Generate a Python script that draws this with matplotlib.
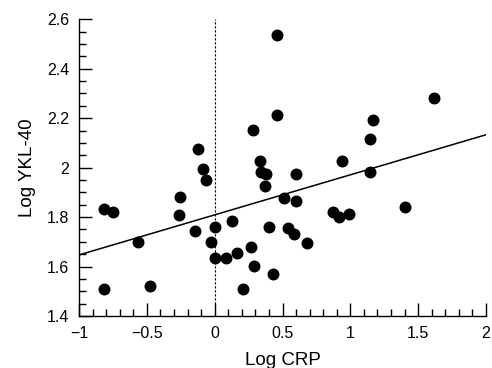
import matplotlib
matplotlib.use('Agg')
import matplotlib.pyplot as plt
from matplotlib.ticker import MultipleLocator, FuncFormatter
import numpy as np

plt.rcParams['font.family'] = ['Liberation Sans', 'DejaVu Sans']

# values
log_crp = [-0.813, -0.752, -0.813, -0.567, -0.479, -0.257, -0.262, -0.147, -0.122, -0.085,
           -0.063, -0.024, 0.003, 0.003, 0.084, 0.131, 0.165, 0.210, 0.269, 0.284,
           0.293, 0.333, 0.338, 0.379, 0.372, 0.404, 0.433, 0.456, 0.463, 0.510,
           0.544, 0.583, 0.596, 0.603, 0.677, 0.871, 0.920, 0.987, 0.938, 1.142,
           1.142, 1.166, 1.405, 1.614]
log_ykl40 = [1.833, 1.822, 1.508, 1.698, 1.523, 1.880, 1.809, 1.744, 2.075, 1.993,
             1.950, 1.698, 1.761, 1.636, 1.636, 1.784, 1.653, 1.508, 1.680, 2.151,
             1.602, 2.027, 1.984, 1.976, 1.927, 1.761, 1.571, 2.535, 2.212, 1.876,
             1.755, 1.730, 1.864, 1.974, 1.697, 1.822, 1.802, 1.813, 2.027, 2.117,
             1.981, 2.193, 1.842, 2.280]

# regression line
intercept = 1.809
slope = 0.162
x_range = [-1, 2]
y_range = [1.4, 2.6]

fig = plt.figure(figsize=(4.92, 3.68), dpi=100)
ax = fig.add_axes([0.1606, 0.1413, 0.8272, 0.8063])

ax.plot(log_crp, log_ykl40, 'o', color='black', markersize=8.6, markeredgewidth=0, zorder=3)
fit_x = np.array(x_range)
ax.plot(fit_x, intercept + slope * fit_x, '-', color='black', linewidth=1.1, zorder=2)
ax.axvline(0, color='black', linewidth=0.8, linestyle=(0, (2, 1.6)), zorder=1)

ax.set_xlim(x_range)
ax.set_ylim(y_range)
ax.xaxis.set_major_locator(MultipleLocator(0.5))
ax.xaxis.set_minor_locator(MultipleLocator(0.1))
ax.yaxis.set_major_locator(MultipleLocator(0.2))
ax.yaxis.set_minor_locator(MultipleLocator(0.05))

def fmt(v, pos):
    s = ('%.1f' % v).rstrip('0').rstrip('.')
    if s == '-0':
        s = '0'
    return s.replace('-', '\u2212')

ax.xaxis.set_major_formatter(FuncFormatter(fmt))
ax.yaxis.set_major_formatter(FuncFormatter(fmt))

for side in ['top', 'right']:
    ax.spines[side].set_visible(False)
for side in ['left', 'bottom']:
    ax.spines[side].set_linewidth(1.0)

ax.tick_params(which='major', direction='in', length=9.5, width=1.0, color='black',
               labelsize=11.5, pad=7)
ax.tick_params(which='minor', direction='in', length=5, width=1.0, color='black')

ax.set_xlabel('Log CRP', fontsize=13.5, labelpad=8)
ax.set_ylabel('Log YKL-40', fontsize=13.5, labelpad=8)

fig.savefig('out.png', dpi=100)
